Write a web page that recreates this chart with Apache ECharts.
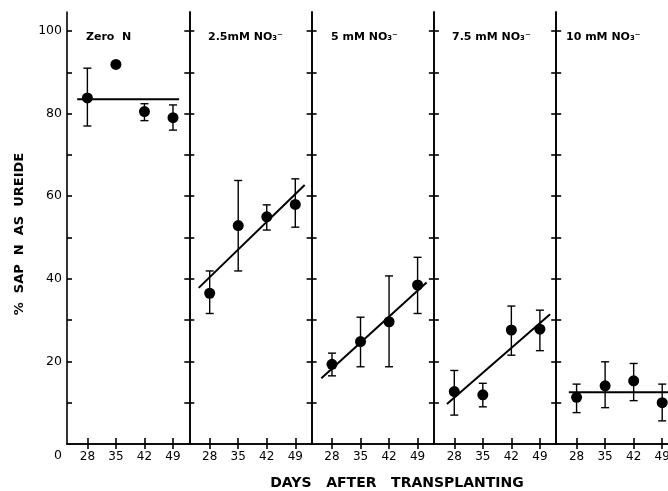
<!DOCTYPE html>
<html>
<head>
<meta charset="utf-8">
<script src="https://cdn.jsdelivr.net/npm/echarts@6/dist/echarts.min.js"></script>
<style>html,body{margin:0;padding:0;background:#fff}#c{width:668px;height:491px}</style>
</head>
<body>
<div id="c"></div>
<script>
// ---- data ----
var days = [28, 35, 42, 49];
var panelNames = ['Zero  N', '2.5mM NO₃⁻', '5 mM NO₃⁻', '7.5 mM NO₃⁻', '10 mM NO₃⁻'];

var zeroMean = [83.8, 91.9, 80.5, 79.0];
var zeroLow  = [77.0, null, 78.3, 76.0];
var zeroHigh = [91.0, null, 82.4, 82.1];
var zeroFit  = [[25.5, 83.5], [50.5, 83.5]];

var n25Mean = [36.5, 52.9, 55.0, 58.0];
var n25Low  = [31.6, 41.9, 51.8, 52.5];
var n25High = [41.9, 63.8, 57.9, 64.2];
var n25Fit  = [[25.3, 37.8], [51.3, 62.7]];

var n5Mean = [19.3, 24.8, 29.6, 38.5];
var n5Low  = [16.5, 18.7, 18.7, 31.6];
var n5High = [22.0, 30.7, 40.7, 45.2];
var n5Fit  = [[25.4, 15.9], [51.2, 39.1]];

var n75Mean = [12.7, 11.9, 27.6, 27.8];
var n75Low  = [7.0, 9.0, 21.5, 22.6];
var n75High = [17.8, 14.7, 33.4, 32.4];
var n75Fit  = [[26.2, 9.7], [51.5, 31.4]];

var n10Mean = [11.3, 14.1, 15.3, 10.0];
var n10Low  = [7.6, 8.8, 10.5, 5.6];
var n10High = [14.5, 19.9, 19.5, 14.5];
var n10Fit  = [[26.1, 12.5], [54.0, 12.5]];

var yTicks = [10, 20, 30, 40, 50, 60, 70, 80, 90, 100];
var yLabels = [20, 40, 60, 80, 100];

var panels = [
  {mean: zeroMean, low: zeroLow, high: zeroHigh, fit: zeroFit},
  {mean: n25Mean, low: n25Low, high: n25High, fit: n25Fit},
  {mean: n5Mean, low: n5Low, high: n5High, fit: n5Fit},
  {mean: n75Mean, low: n75Low, high: n75High, fit: n75Fit},
  {mean: n10Mean, low: n10Low, high: n10High, fit: n10Fit}
];

// ---- layout ----
var FONT = 'DejaVu Sans';
var X0 = 67, PW = 122.3, TOP = 12, H = 432;
var lineStyle = {color: '#000', width: 1.6};

var grids = [], xAxes = [], yAxes = [], series = [], graphics = [];

panels.forEach(function (p, i) {
  grids.push({left: X0 + i * PW, top: TOP, width: PW, height: H, outerBoundsMode: 'none', containLabel: false});
  var xBase = {
    gridIndex: i, type: 'value', min: 23, max: 53,
    axisLine: {show: true, lineStyle: lineStyle},
    splitLine: {show: false}
  };
  xAxes.push(Object.assign({}, xBase, {
    position: 'bottom',
    axisTick: {show: true, inside: true, length: 6, lineStyle: lineStyle, customValues: days},
    axisLabel: {show: true, customValues: days, color: '#000', fontFamily: FONT, fontSize: 12, margin: 7}
  }));
  xAxes.push(Object.assign({}, xBase, {
    position: 'top',
    axisTick: {show: true, inside: true, length: 5, lineStyle: lineStyle, customValues: days},
    axisLabel: {show: false}
  }));
  var yBase = {
    gridIndex: i, type: 'value', min: 0, max: 104.6,
    axisLine: {show: true, lineStyle: lineStyle},
    splitLine: {show: false},
    axisTick: {show: true, inside: true, length: 5, lineStyle: lineStyle, customValues: yTicks}
  };
  yAxes.push(Object.assign({}, yBase, {
    position: 'left',
    axisLabel: {show: i === 0, customValues: yLabels, color: '#000', fontFamily: FONT, fontSize: 12.5, margin: 5}
  }));
  yAxes.push(Object.assign({}, yBase, {
    position: 'right',
    axisLabel: {show: false}
  }));

  var errData = [], ptData = [];
  days.forEach(function (d, k) {
    ptData.push([d, p.mean[k]]);
    if (p.low[k] != null) errData.push([d, p.low[k], p.high[k]]);
  });

  series.push({
    type: 'custom', xAxisIndex: 2 * i, yAxisIndex: 2 * i, data: errData, silent: true,
    renderItem: function (params, api) {
      var x = api.value(0);
      var a = api.coord([x, api.value(2)]);
      var b = api.coord([x, api.value(1)]);
      var cw = 4;
      var st = {stroke: '#000', lineWidth: 1.4};
      return {type: 'group', children: [
        {type: 'line', shape: {x1: a[0], y1: a[1], x2: b[0], y2: b[1]}, style: st},
        {type: 'line', shape: {x1: a[0] - cw, y1: a[1], x2: a[0] + cw, y2: a[1]}, style: st},
        {type: 'line', shape: {x1: b[0] - cw, y1: b[1], x2: b[0] + cw, y2: b[1]}, style: st}
      ]};
    }
  });
  series.push({
    type: 'line', xAxisIndex: 2 * i, yAxisIndex: 2 * i, data: p.fit, silent: true,
    symbol: 'none', lineStyle: {color: '#000', width: 2}
  });
  series.push({
    type: 'scatter', xAxisIndex: 2 * i, yAxisIndex: 2 * i, data: ptData, silent: true,
    symbol: 'circle', symbolSize: 11, itemStyle: {color: '#000', opacity: 1}
  });
});

var titleX = [86, 208, 331, 452, 566];
panelNames.forEach(function (t, i) {
  graphics.push({type: 'text', left: titleX[i], top: 32,
    style: {text: t, fill: '#000', font: 'bold 11px "' + FONT + '"'}});
});
graphics.push({type: 'text', left: 54, top: 449, style: {text: '0', fill: '#000', font: '12.5px "' + FONT + '"'}});
graphics.push({type: 'text', x: 397, y: 483,
  style: {text: 'DAYS   AFTER   TRANSPLANTING', fill: '#000', font: 'bold 14px "' + FONT + '"', align: 'center', verticalAlign: 'middle'}});
graphics.push({type: 'text', x: 20, y: 234, rotation: Math.PI / 2,
  style: {text: '%  SAP  N  AS  UREIDE', fill: '#000', font: 'bold 13px "' + FONT + '"', align: 'center', verticalAlign: 'middle'}});

var chart = echarts.init(document.getElementById('c'), null, {renderer: 'canvas'});
chart.setOption({
  animation: false,
  backgroundColor: '#fff',
  grid: grids, xAxis: xAxes, yAxis: yAxes, series: series, graphic: graphics
});
</script>
</body>
</html>
